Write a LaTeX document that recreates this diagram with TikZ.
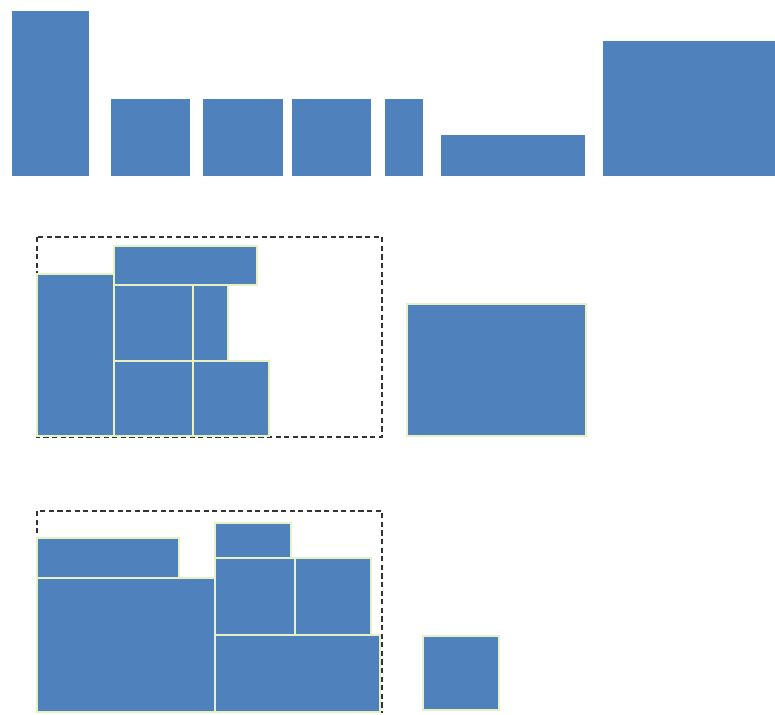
\documentclass[tikz,border=0pt]{standalone}
\usepackage{tikz}
\definecolor{blkblue}{HTML}{4F81BD}
\definecolor{paleedge}{HTML}{E6F2C2}
\definecolor{dashgray}{HTML}{333333}
\tikzset{
  blk/.style={fill=blkblue, draw=paleedge, line width=0.8pt},
  topblk/.style={fill=blkblue, draw=none},
  bin/.style={draw=dashgray, line width=0.6pt, dash pattern=on 2.6pt off 1.7pt}
}
\begin{document}
\begin{tikzpicture}[x=0.5pt,y=-0.5pt]
\useasboundingbox (0,0) rectangle (775,715);
% top row of items
\path[topblk] (12,11) rectangle (89,176);
\path[topblk] (111,99) rectangle (190,176);
\path[topblk] (203,99) rectangle (283,176);
\path[topblk] (292,99) rectangle (371,176);
\path[topblk] (385,99) rectangle (423,176);
\path[topblk] (441,135) rectangle (585,176);
\path[topblk] (603,41) rectangle (775,176);
% middle packing
\draw[bin] (37,237) rectangle (382,437);
\draw[blk] (37,274) rectangle (114,436);
\draw[blk] (114,246) rectangle (257,285);
\draw[blk] (114,285) rectangle (193,361);
\draw[blk] (193,285) rectangle (228,361);
\draw[blk] (114,361) rectangle (193,436);
\draw[blk] (193,361) rectangle (269,436);
\draw[blk] (407,304) rectangle (586,436);
% bottom packing
\draw[bin] (37,511) rectangle (382,712);
\draw[blk] (37,538) rectangle (179,578);
\draw[blk] (37,578) rectangle (215,712);
\draw[blk] (215,523) rectangle (291,558);
\draw[blk] (215,558) rectangle (295,635);
\draw[blk] (295,558) rectangle (371,635);
\draw[blk] (215,635) rectangle (380,712);
\draw[blk] (423,636) rectangle (499,710);
\end{tikzpicture}
\end{document}
